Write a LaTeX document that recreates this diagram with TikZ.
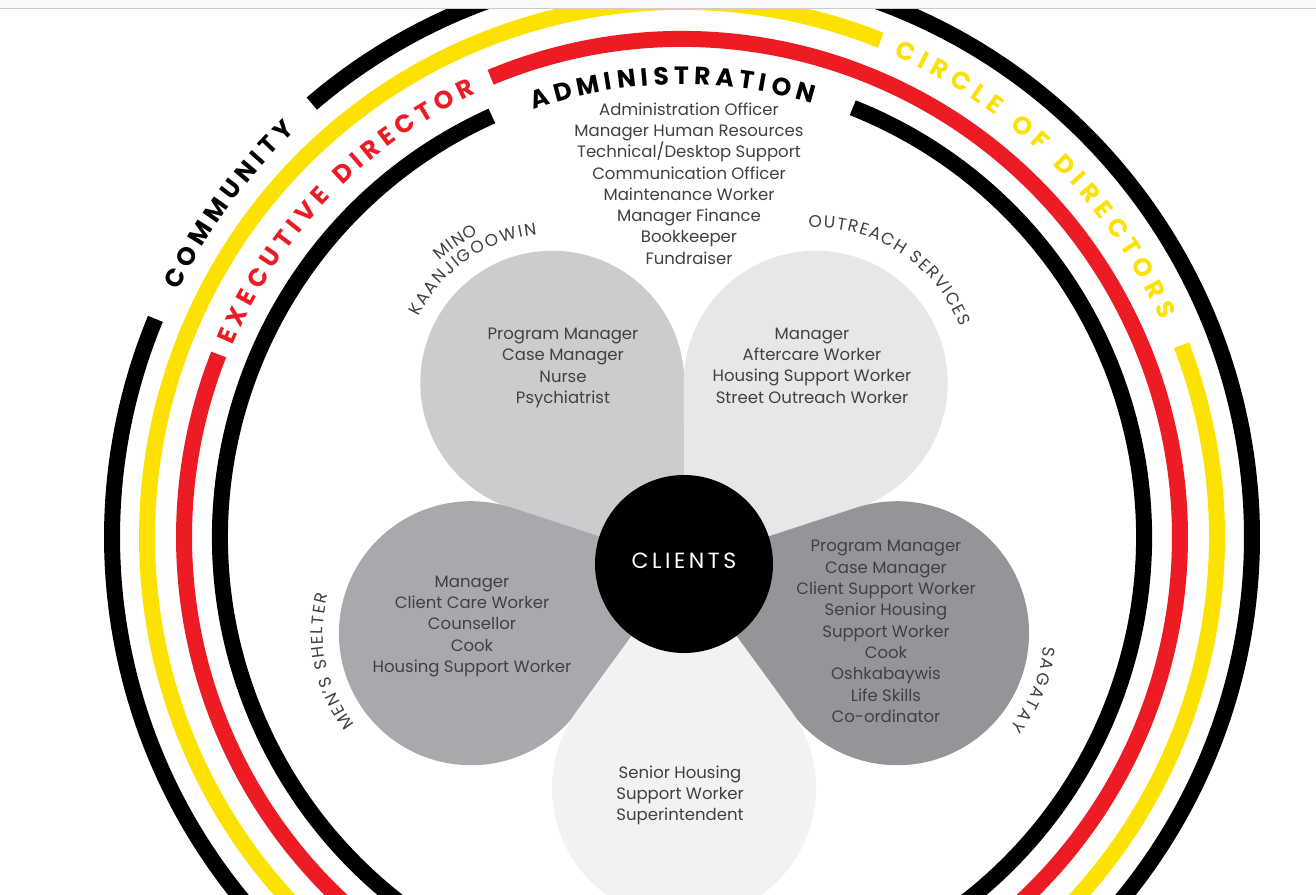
\documentclass[tikz,border=0pt]{standalone}
\usepackage{fontspec}
\setmainfont{Poppins}
\usetikzlibrary{decorations.text}
\definecolor{ringyellow}{HTML}{FDE100}
\definecolor{ringred}{HTML}{ED1C24}
\definecolor{petalA}{HTML}{CBCCCE}
\definecolor{petalB}{HTML}{E6E7E8}
\definecolor{petalC}{HTML}{A7A9AC}
\definecolor{petalD}{HTML}{939598}
\definecolor{petalE}{HTML}{F1F2F2}
\definecolor{bodygray}{HTML}{414042}
\newcommand\ringfont{\fontsize{25}{25}\selectfont\bfseries}
\newcommand\labfont{\fontsize{17}{17}\selectfont}
\begin{document}
\begin{tikzpicture}[x=1pt,y=1pt,
  ring/.style={line width=16pt},
  body/.style={align=center, text=bodygray, font=\fontsize{16.5}{21.3}\selectfont, inner sep=0pt},
  ringtext/.style n args={2}{decoration={text along path, text={|\ringfont|#1}, text align={fit to path}, text color=#2}, decorate},
  labtext/.style={decoration={text along path, text={|\labfont|#1}, text align={fit to path}, text color=bodygray}, decorate},
]
\useasboundingbox (0,0) rectangle (1316,894);
\fill[white] (0,0) rectangle (1316,894);
\begin{scope}
\clip (0,0) rectangle (1316,894);
% ---------- rings ----------
\begin{scope}[shift={(682,357)}]
\draw[ring, black] (130.5:570) arc[start angle=130.5, end angle=-70, radius=570];
\draw[ring, black] (157.5:570) arc[start angle=157.5, end angle=250, radius=570];
\draw[ring, ringyellow] (68.2:535) arc[start angle=68.2, end angle=250, radius=535];
\draw[ring, ringyellow] (21:535) arc[start angle=21, end angle=-70, radius=535];
\draw[ring, ringred] (112.6:498) arc[start angle=112.6, end angle=-70, radius=498];
\draw[ring, ringred] (158.5:498) arc[start angle=158.5, end angle=250, radius=498];
\draw[ring, black] (114.3:462) arc[start angle=114.3, end angle=250, radius=462];
\draw[ring, black] (68.3:462) arc[start angle=68.3, end angle=-70, radius=462];
% ring texts
\path[ringtext={COMMUNITY}{black}] (153.9:560.5) arc[start angle=153.9, end angle=133.6, radius=560.5];
\path[ringtext={EXECUTIVE DIRECTOR}{ringred}] (156.9:488.5) arc[start angle=156.9, end angle=114.9, radius=488.5];
\path[ringtext={ADMINISTRATION}{black}] (109.1:452.5) arc[start angle=109.1, end angle=73.3, radius=452.5];
\path[ringtext={CIRCLE OF DIRECTORS}{ringyellow}] (66.3:525.5) arc[start angle=66.3, end angle=24.4, radius=525.5];
\end{scope}
% ---------- petals (tip at flower centre) ----------
\fill[petalA] (684,330) -- ++(89.9:181) arc[start angle=-0.1, end angle=252.1, radius=132] -- cycle;
\fill[petalB] (684,330) -- ++(17.9:181) arc[start angle=-72.1, end angle=180.1, radius=132] -- cycle;
\fill[petalC] (684,330) -- ++(161.9:181) arc[start angle=71.9, end angle=324.1, radius=132] -- cycle;
\fill[petalD] (684,330) -- ++(-54.1:181) arc[start angle=-144.1, end angle=108.1, radius=132] -- cycle;
\fill[petalE] (684,330) -- ++(233.9:181) arc[start angle=143.9, end angle=396.1, radius=132] -- cycle;
% ---------- petal labels ----------
\begin{scope}[shift={(552.3,511.2)}]
\path[labtext={MINO}] (132.7:166) arc[start angle=132.7, end angle=116.3, radius=166];
\path[labtext={KAANJIGOOWIN}] (153.8:149) arc[start angle=153.8, end angle=95.9, radius=149];
\end{scope}
\begin{scope}[shift={(815.7,511.2)}]
\path[labtext={OUTREACH SERVICES}] (92.6:155) arc[start angle=92.6, end angle=21.1, radius=155];
\end{scope}
\begin{scope}[shift={(471,260.8)}]
\path[labtext={MEN'S SHELTER}] (218.2:148) arc[start angle=218.2, end angle=164.8, radius=148];
\end{scope}
\begin{scope}[shift={(897,260.8)}]
\path[labtext={SAGATAY}] (-5:147) arc[start angle=-5, end angle=-39.6, radius=147];
\end{scope}
% ---------- body texts ----------
\node[body] (adm) at (689,710.5) {Administration Officer\\Manager Human Resources\\Technical/Desktop Support\\Communication Officer\\Maintenance Worker\\Manager Finance\\Bookkeeper\\Fundraiser};
\node[body] (mino) at (563,526) {Program Manager\\Case Manager\\Nurse\\Psychiatrist};
\node[body] (outreach) at (812,528.5) {Manager\\Aftercare Worker\\Housing Support Worker\\Street Outreach Worker};
\node[body] (shelter) at (472,267.5) {Manager\\Client Care Worker\\Counsellor\\Cook\\Housing Support Worker};
\node[body] (sagatay) at (886,262.5) {Program Manager\\Case Manager\\Client Support Worker\\Senior Housing\\Support Worker\\Cook\\Oshkabaywis\\Life Skills\\Co-ordinator};
\node[body] (senior) at (680,98.5) {Senior Housing\\Support Worker\\Superintendent};
% ---------- clients ----------
\fill[black] (684,330) circle[radius=89];
\node[text=white, font=\fontsize{22}{22}\selectfont\addfontfeature{LetterSpace=16}, inner sep=0pt] (clients) at (684,333) {CLIENTS};
% ---------- top strip ----------
\fill[gray!5] (0,886) rectangle (1316,894);
\draw[gray!40, line width=1.2pt] (0,885.6) -- (1316,885.6);
\end{scope}
\end{tikzpicture}
\end{document}
